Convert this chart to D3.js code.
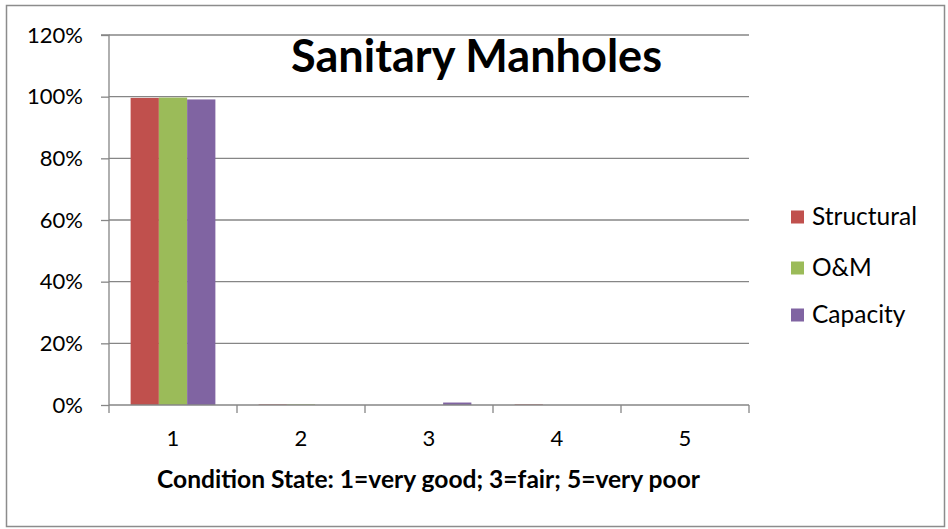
<!DOCTYPE html>
<html><head><meta charset="utf-8">
<script src="https://cdn.jsdelivr.net/npm/d3@7"></script>
<style>body{margin:0;background:#fff;} svg{display:block;font-family:Lato,"Open Sans",sans-serif;}</style>
</head><body>
<svg id="c" width="948" height="529"></svg>
<script>
const categories = ["1","2","3","4","5"];
const seriesNames = ["Structural","O&M","Capacity"];
const seriesColors = ["#C0504D","#9BBB59","#8064A2"];
const structural = [0.996, 0.002, 0.0, 0.002, 0.0];
const om = [0.997, 0.002, 0.0, 0.0, 0.0];
const capacity = [0.991, 0.0, 0.008, 0.0, 0.0];
const yTicks = [0, 0.2, 0.4, 0.6, 0.8, 1.0, 1.2];
const title = "Sanitary Manholes";
const xTitle = "Condition State: 1=very good; 3=fair; 5=very poor";

const series = [structural, om, capacity];
const svg = d3.select("#c");
const L = 109, R = 749, T = 35, B = 405;

svg.append("rect").attr("x",6.5).attr("y",5.5).attr("width",938).attr("height",521)
  .attr("fill","#fff").attr("stroke","#8c8c8c").attr("stroke-width",1.5);

const x = d3.scaleBand().domain(categories).range([L,R]).paddingInner(0).paddingOuter(0);
const xInner = d3.scaleBand().domain(seriesNames).range([0,x.bandwidth()]).paddingOuter(0.765).paddingInner(0);
const y = d3.scaleLinear().domain([0,1.2]).range([B,T]);

function fitSize(text, fs, w, weight){
  const tmp = svg.append("text").attr("font-size",fs).attr("font-family","Lato").attr("font-weight",weight||"normal").text(text);
  const cur = tmp.node().getComputedTextLength(); tmp.remove(); return fs*w/cur;
}

// gridlines
svg.append("g").selectAll("line").data(yTicks.filter(d=>d>0)).join("line")
  .attr("x1",L).attr("x2",R).attr("y1",d=>y(d)).attr("y2",d=>y(d))
  .attr("stroke","#868686").attr("stroke-width",1.3);

// bars
const g = svg.append("g");
series.forEach((vals,si)=>{
  g.selectAll(null).data(vals.map((v,i)=>({v,c:categories[i]}))).join("rect")
    .attr("x",d=>x(d.c)+xInner(seriesNames[si]))
    .attr("width",xInner.bandwidth())
    .attr("y",d=>y(d.v)).attr("height",d=>B-y(d.v))
    .attr("fill",seriesColors[si]);
});

const tickFs = fitSize("120%",20,56);
// y axis
const ya = svg.append("g").attr("transform",`translate(${L},0)`)
  .call(d3.axisLeft(y).tickValues(yTicks).tickFormat(d3.format(".0%")).tickSize(8).tickPadding(18));
ya.select(".domain").attr("stroke","#868686").attr("stroke-width",1.3).attr("d",`M-8,${T}H0V${B}`);
ya.selectAll(".tick line").attr("stroke","#868686").attr("stroke-width",1.3);
ya.selectAll("text").attr("font-size",tickFs).attr("fill","#000").attr("font-family","Lato");

// x axis
const xa = svg.append("g").attr("transform",`translate(0,${B})`)
  .call(d3.axisBottom(x).tickSize(0).tickPadding(25));
xa.select(".domain").attr("stroke","#868686").attr("stroke-width",1.3).attr("d",`M${L},0H${R}`);
xa.selectAll("text").attr("font-size",tickFs).attr("fill","#000").attr("font-family","Lato");
svg.append("g").selectAll("line").data(categories.concat(["end"])).join("line")
  .attr("x1",(d,i)=>L+i*x.bandwidth()).attr("x2",(d,i)=>L+i*x.bandwidth())
  .attr("y1",B).attr("y2",B+8).attr("stroke","#868686").attr("stroke-width",1.3);

svg.append("text").attr("x",476.5).attr("y",72).attr("text-anchor","middle")
  .attr("font-weight","bold").attr("font-size",fitSize(title,40,371,"bold")).attr("font-family","Lato").text(title);

svg.append("text").attr("x",428.5).attr("y",488).attr("text-anchor","middle")
  .attr("font-weight","bold").attr("font-size",fitSize(xTitle,20,543,"bold")).attr("font-family","Lato").text(xTitle);

// legend
const legFs = fitSize("Structural",20,105);
const lg = svg.append("g");
const legY = [217, 268, 315];
seriesNames.forEach((n,i)=>{
  lg.append("rect").attr("x",791).attr("y",legY[i]-6.5).attr("width",13).attr("height",13).attr("fill",seriesColors[i]);
  lg.append("text").attr("x",812).attr("y",legY[i]+8).attr("font-size",legFs).attr("font-family","Lato").attr("fill","#000").text(n);
});
</script>
</body></html>
